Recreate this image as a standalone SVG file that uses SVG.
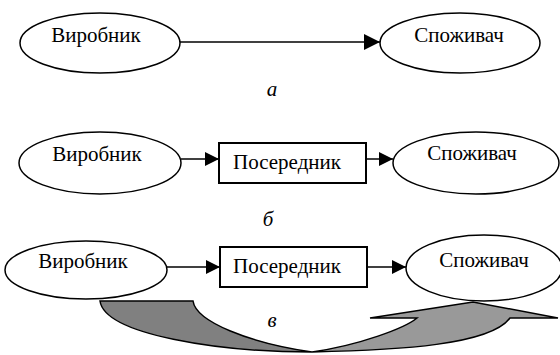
<svg xmlns="http://www.w3.org/2000/svg" width="560" height="355" viewBox="0 0 560 355">
<style>
.node{fill:#fff;stroke:#000;stroke-width:1.5}
.box{fill:#fff;stroke:#000;stroke-width:2}
.t{font-family:"Liberation Serif","Times New Roman",serif;font-size:21px;fill:#000;text-anchor:middle}
.lbl{font-family:"Liberation Serif","Times New Roman",serif;font-size:21px;font-style:italic;fill:#000;text-anchor:middle}
.edge{stroke:#000;stroke-width:1.5;fill:none}
</style>
<defs>
<marker id="ahL" markerUnits="userSpaceOnUse" markerWidth="16" markerHeight="16" refX="16" refY="8" orient="auto"><path d="M0,0 L16,8 L0,16 Z" fill="#000"/></marker>
<marker id="ah" markerUnits="userSpaceOnUse" markerWidth="14" markerHeight="14" refX="14" refY="7" orient="auto"><path d="M0,0 L14,7 L0,14 Z" fill="#000"/></marker>
</defs>
<rect width="560" height="355" fill="#fff"/>

<g id="curved-arrow">
<path d="M100,301 L193,301 C196,322 250,343 312,352 C220,352 105,335 100,301 Z" fill="#808080" stroke="#000" stroke-width="1.5"/>
<path d="M312,352 C400,350 490,345 510,318 L558,318 L473,302 L370,318 L417,318 C405,328 360,345 312,352 Z" fill="#999" stroke="#000" stroke-width="1.5"/>
</g>

<g id="connectors">
<line class="edge" x1="180" y1="42" x2="380" y2="42" marker-end="url(#ahL)"/>
<line class="edge" x1="181" y1="159" x2="219" y2="159" marker-end="url(#ah)"/>
<line class="edge" x1="366" y1="159" x2="393" y2="159" marker-end="url(#ah)"/>
<line class="edge" x1="167" y1="267" x2="220" y2="267" marker-end="url(#ah)"/>
<line class="edge" x1="367" y1="267" x2="406" y2="267" marker-end="url(#ah)"/>
</g>

<g id="a-producer"><ellipse class="node" cx="100" cy="43" rx="80" ry="30"/><text class="t" x="96" y="42">Виробник</text></g>
<g id="a-consumer"><ellipse class="node" cx="460" cy="43" rx="80" ry="30"/><text class="t" x="459" y="42">Споживач</text></g>
<text class="lbl" x="272" y="96">а</text>

<g id="b-producer"><ellipse class="node" cx="100" cy="163" rx="81" ry="31"/><text class="t" x="97" y="161">Виробник</text></g>
<g id="b-intermediary"><rect class="box" x="219" y="143" width="147" height="40"/><text class="t" x="287" y="169">Посередник</text></g>
<g id="b-consumer"><ellipse class="node" cx="476" cy="163" rx="83" ry="31"/><text class="t" x="472" y="160">Споживач</text></g>
<text class="lbl" x="268" y="226">б</text>

<g id="c-producer"><ellipse class="node" cx="86" cy="270" rx="81" ry="29"/><text class="t" x="83" y="268">Виробник</text></g>
<g id="c-intermediary"><rect class="box" x="220" y="247" width="147" height="40"/><text class="t" x="287" y="273">Посередник</text></g>
<g id="c-consumer"><ellipse class="node" cx="484" cy="268" rx="78" ry="33" style="fill:none"/><text class="t" x="484" y="267">Споживач</text></g>
<text class="lbl" x="272" y="327">в</text>
</svg>
